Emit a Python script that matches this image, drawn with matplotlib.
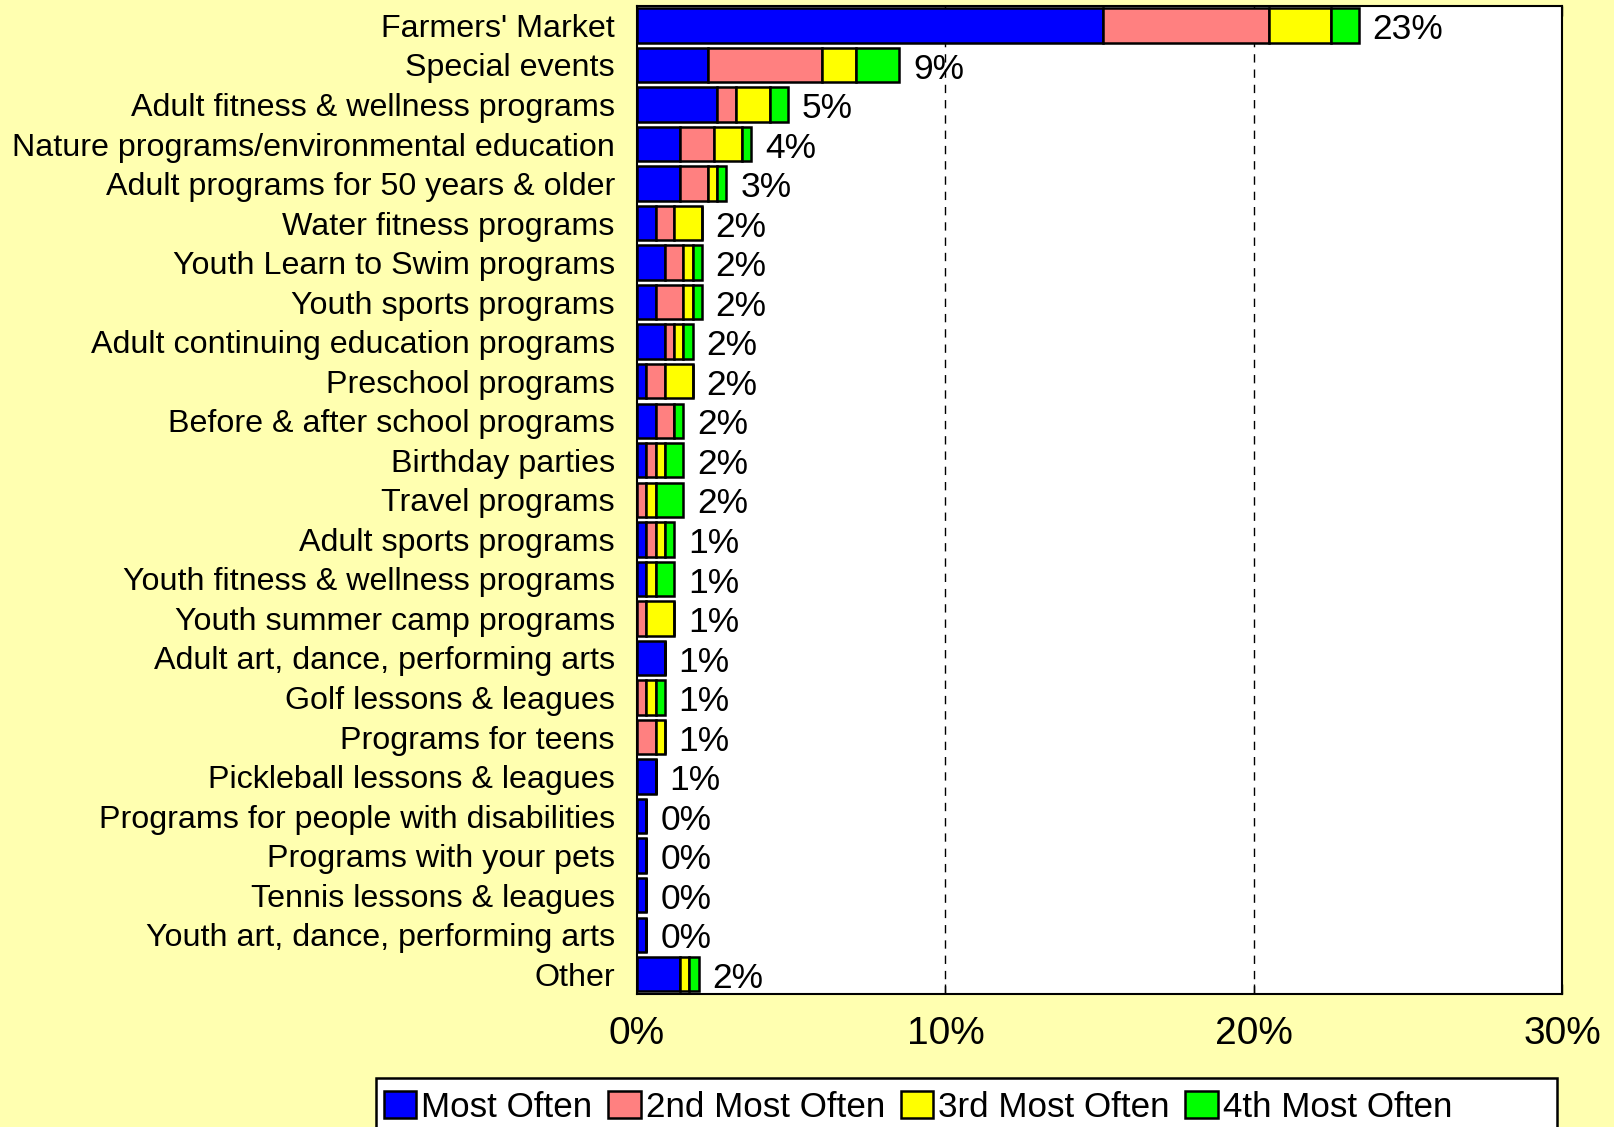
import matplotlib.pyplot as plt
import numpy as np
from matplotlib.patches import Rectangle, Patch

plt.rcParams['font.family'] = ['Liberation Sans', 'DejaVu Sans']

# categories, top to bottom
categories = [
    "Farmers' Market", "Special events", "Adult fitness & wellness programs",
    "Nature programs/environmental education", "Adult programs for 50 years & older",
    "Water fitness programs", "Youth Learn to Swim programs", "Youth sports programs",
    "Adult continuing education programs", "Preschool programs",
    "Before & after school programs", "Birthday parties", "Travel programs",
    "Adult sports programs", "Youth fitness & wellness programs",
    "Youth summer camp programs", "Adult art, dance, performing arts",
    "Golf lessons & leagues", "Programs for teens", "Pickleball lessons & leagues",
    "Programs for people with disabilities", "Programs with your pets",
    "Tennis lessons & leagues", "Youth art, dance, performing arts", "Other",
]

# percent of respondents per rank
most_often = [15.1, 2.3, 2.6, 1.4, 1.4, 0.6, 0.9, 0.6, 0.9, 0.3, 0.6, 0.3, 0.0,
              0.3, 0.3, 0.0, 0.9, 0.0, 0.0, 0.6, 0.3, 0.3, 0.3, 0.3, 1.4]
second = [5.4, 3.7, 0.6, 1.1, 0.9, 0.6, 0.6, 0.9, 0.3, 0.6, 0.6, 0.3, 0.3,
          0.3, 0.0, 0.3, 0.0, 0.3, 0.6, 0.0, 0.0, 0.0, 0.0, 0.0, 0.0]
third = [2.0, 1.1, 1.1, 0.9, 0.3, 0.9, 0.3, 0.3, 0.3, 0.9, 0.0, 0.3, 0.3,
         0.3, 0.3, 0.9, 0.0, 0.3, 0.3, 0.0, 0.0, 0.0, 0.0, 0.0, 0.3]
fourth = [0.9, 1.4, 0.6, 0.3, 0.3, 0.0, 0.3, 0.3, 0.3, 0.0, 0.3, 0.6, 0.9,
          0.3, 0.6, 0.0, 0.0, 0.3, 0.0, 0.0, 0.0, 0.0, 0.0, 0.0, 0.3]

total_labels = ["23%", "9%", "5%", "4%", "3%", "2%", "2%", "2%", "2%", "2%",
                "2%", "2%", "2%", "1%", "1%", "1%", "1%", "1%", "1%", "1%",
                "0%", "0%", "0%", "0%", "2%"]

series = [most_often, second, third, fourth]
names = ["Most Often", "2nd Most Often", "3rd Most Often", "4th Most Often"]
colors = ["#0000FF", "#FF8080", "#FFFF00", "#00FF00"]

bg = "#FFFFB0"
fig = plt.figure(figsize=(16.14, 11.27), dpi=100, facecolor=bg)
ax = fig.add_axes([0.3947, 0.118, 0.968 - 0.3947, 0.995 - 0.118])
ax.set_facecolor("white")

y = np.arange(len(categories))
left = np.zeros(len(categories))
for vals, col in zip(series, colors):
    v = np.array(vals)
    ax.barh(y, v, left=left, height=0.87, color=col, edgecolor="black",
            linewidth=1.8, zorder=3)
    left += v

for yi, tot, lab in zip(y, left, total_labels):
    ax.annotate(lab, (tot, yi), xytext=(10, -3), textcoords="offset points",
                va="center", ha="left", fontsize=25.5, zorder=4)

ax.set_ylim(len(categories) - 0.5, -0.5)
ax.set_xlim(0, 30)
ax.set_yticks(y)
ax.set_yticklabels(categories, fontsize=23.2)
ax.set_xticks([0, 10, 20, 30])
ax.set_xticklabels(["0%", "10%", "20%", "30%"], fontsize=28)
ax.tick_params(axis="y", length=0, pad=16)
ax.tick_params(axis="x", direction="in", length=7, pad=16, top=True, width=1)
for x in [10, 20]:
    ax.axvline(x, color="black", linestyle=(0, (6, 5)), linewidth=1, zorder=1)
for s in ax.spines.values():
    s.set_linewidth(1.5)
    s.set_color("black")

# legend, frame drawn separately so the entries stay packed to the left
handles = [Patch(facecolor=c, edgecolor="black", linewidth=1.8) for c in colors]
fig.add_artist(Rectangle((376 / 1614, -0.02), (1557 - 376) / 1614, 0.0635,
                         transform=fig.transFigure, facecolor="white",
                         edgecolor="black", linewidth=1.8))
leg = fig.legend(handles, names, loc="center left",
                 bbox_to_anchor=(384 / 1614, 0.0175), ncol=4, frameon=False,
                 fontsize=25.2, handlelength=0.92, handleheight=0.8,
                 handletextpad=0.15, columnspacing=0.45, borderpad=0,
                 borderaxespad=0)

fig.savefig("out.png", dpi=100, facecolor=bg)
